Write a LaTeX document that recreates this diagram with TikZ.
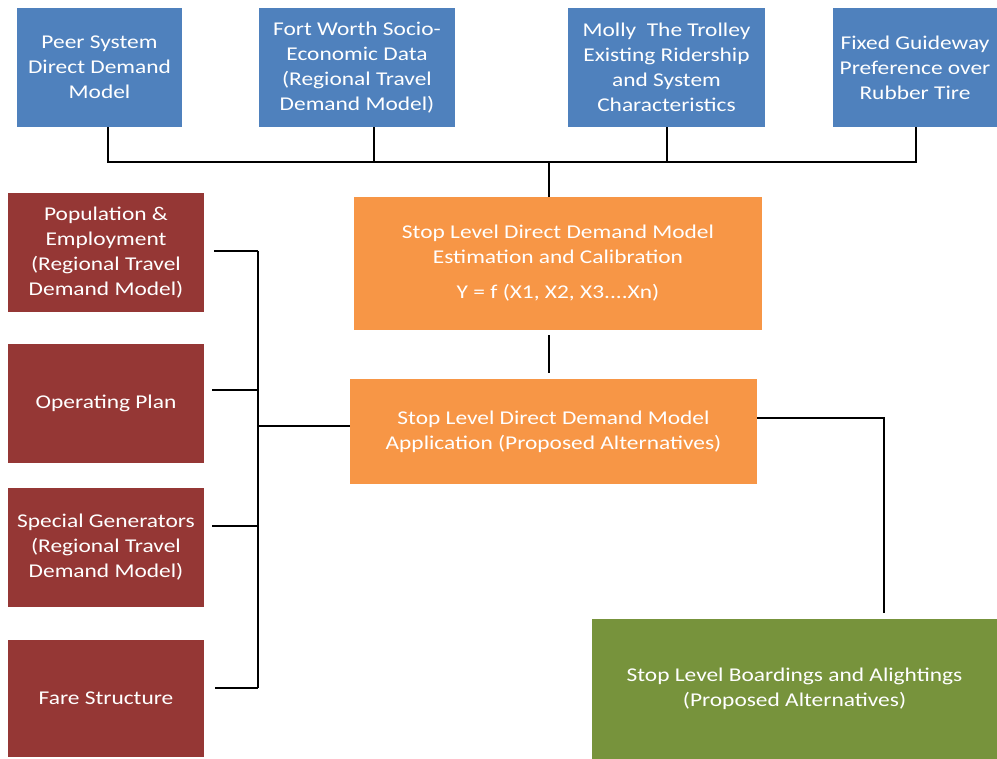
\documentclass[tikz,border=0pt]{standalone}
\usepackage{fontspec}
\setmainfont{Carlito}[FakeStretch=1.2]
\definecolor{cblue}{HTML}{4F81BD}
\definecolor{cred}{HTML}{953735}
\definecolor{corange}{HTML}{F79646}
\definecolor{cgreen}{HTML}{77933C}
\tikzset{
  box/.style={rectangle, inner sep=0pt, text=white, align=center, font=\fontsize{19.5}{25}\selectfont},
  bluebox/.style={box, fill=cblue},
  redbox/.style={box, fill=cred},
  orangebox/.style={box, fill=corange},
  greenbox/.style={box, fill=cgreen},
  conn/.style={line width=1.6pt, black}
}
\begin{document}
\begin{tikzpicture}[x=1pt,y=-1pt]
\useasboundingbox (0,0) rectangle (997,759);
% top inputs
\node[bluebox, minimum width=165, minimum height=119] (b1) at (99.5,67.5) {Peer System\\Direct Demand\\Model};
\node[bluebox, minimum width=196, minimum height=119] (b2) at (357,67.5) {Fort Worth Socio-\\Economic Data\\(Regional Travel\\Demand Model)};
\node[bluebox, minimum width=197, minimum height=119] (b3) at (666.5,67.5) {Molly\ \ The Trolley\\Existing Ridership\\and System\\Characteristics};
\node[bluebox, minimum width=164, minimum height=119] (b4) at (915,67.5) {Fixed Guideway\\Preference over\\Rubber Tire};
% central boxes
\node[orangebox, minimum width=408, minimum height=133] (o1) at (558,263.5) {Stop Level Direct Demand Model\\Estimation and Calibration\\[10pt]Y = f (X1, X2, X3....Xn)};
\node[orangebox, minimum width=407, minimum height=105] (o2) at (553.5,431.5) {Stop Level Direct Demand Model\\Application (Proposed Alternatives)};
\node[greenbox, minimum width=405, minimum height=140] (g) at (794.5,689) {Stop Level Boardings and Alightings\\(Proposed Alternatives)};
% left inputs
\node[redbox, minimum width=196, minimum height=119] (r1) at (106,252.5) {Population \&\\Employment\\(Regional Travel\\Demand Model)};
\node[redbox, minimum width=196, minimum height=119] (r2) at (106,403.5) {Operating Plan};
\node[redbox, minimum width=196, minimum height=119] (r3) at (106,547.5) {Special Generators\\(Regional Travel\\Demand Model)};
\node[redbox, minimum width=196, minimum height=117] (r4) at (106,698.5) {Fare Structure};
% top bus
\coordinate (hub) at (549,162);
\draw[conn] ([xshift=8.5pt]b1.south) |- ([xshift=1pt]b4.south |- hub) -- ([xshift=1pt]b4.south);
\draw[conn] ([xshift=17pt]b2.south) -- ([xshift=17pt]b2.south |- hub);
\draw[conn] ([xshift=0.5pt]b3.south) -- ([xshift=0.5pt]b3.south |- hub);
\draw[conn] (hub) -- (hub |- o1.north);
\draw[conn] ([yshift=-5pt]o1.south -| hub) -- ([yshift=6pt]o2.north -| hub);
% right connector
\coordinate (gc) at (884,418);
\draw[conn] ([yshift=13.5pt]o2.east) -- (gc) -- ([yshift=6pt]gc |- g.north);
% left bus
\coordinate (lb) at (258,426);
\draw[conn] ([xshift=10pt,yshift=1.5pt]r1.east) -- ([yshift=1.5pt]r1.east -| lb);
\draw[conn] ([xshift=8pt,yshift=13.5pt]r2.east) -- ([yshift=13.5pt]r2.east -| lb);
\draw[conn] ([xshift=8pt,yshift=21.5pt]r3.east) -- ([yshift=21.5pt]r3.east -| lb);
\draw[conn] ([xshift=11pt,yshift=10.5pt]r4.east) -- ([yshift=10.5pt]r4.east -| lb);
\draw[conn] ([yshift=1.5pt]r1.east -| lb) -- ([yshift=10.5pt]r4.east -| lb);
\draw[conn] (lb) -- (lb -| o2.west);
\end{tikzpicture}
\end{document}
